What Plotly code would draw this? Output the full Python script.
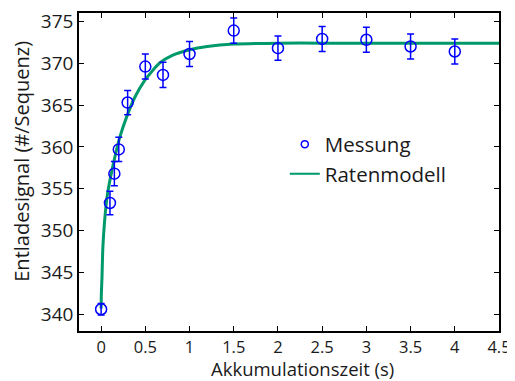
import plotly.graph_objects as go

# Measurement data
t_meas = [0, 0.1, 0.15, 0.2, 0.3, 0.5, 0.7, 1.0, 1.5, 2.0, 2.5, 3.0, 3.5, 4.0]
y_meas = [340.6, 353.3, 356.8, 359.7, 365.3, 369.6, 368.6, 371.1, 373.9, 371.8, 372.9, 372.8, 372.0, 371.4]
y_err = [0.7, 1.4, 1.45, 1.45, 1.45, 1.5, 1.5, 1.5, 1.5, 1.45, 1.5, 1.5, 1.5, 1.5]

# Rate model curve
t_model = [0, 0.003, 0.01, 0.02, 0.04, 0.067, 0.105, 0.154, 0.21, 0.286, 0.38, 0.49, 0.66, 0.8, 1.0, 1.2, 1.5, 2.0, 2.5, 3.0, 3.5, 4.0, 4.5]
y_model = [340.7, 342.5, 344.4, 348.0, 351.2, 354.0, 356.3, 358.7, 361.1, 363.5, 365.9, 367.9, 370.0, 370.9, 371.6, 372.0, 372.3, 372.4, 372.4, 372.4, 372.4, 372.4, 372.4]

x_ticks = [0, 0.5, 1, 1.5, 2, 2.5, 3, 3.5, 4, 4.5]
x_ticklabels = ["0", "0.5", "1", "1.5", "2", "2.5", "3", "3.5", "4", "4.5"]
y_ticks = [340, 345, 350, 355, 360, 365, 370, 375]

x_title = "Akkumulationszeit (s)"
y_title = "Entladesignal (#/Sequenz)"

BLUE = "#0000ff"
GREEN = "#00996b"
TEXT = "#1a1a1a"
FONT = "Open Sans"

fig = go.Figure()
fig.add_trace(go.Scatter(
    x=t_model, y=y_model, mode="lines", name="Ratenmodell", showlegend=False,
    line=dict(color=GREEN, width=3, shape="spline", smoothing=0.6),
))
fig.add_trace(go.Scatter(
    x=t_meas, y=y_meas, mode="markers", name="Messung", showlegend=False,
    marker=dict(symbol="circle-open", size=11, color=BLUE, line=dict(width=1.5, color=BLUE)),
    error_y=dict(type="data", array=y_err, color=BLUE, thickness=1.5, width=3.5),
))
# legend entries
fig.add_trace(go.Scatter(
    x=[None], y=[None], mode="markers", name="Messung",
    marker=dict(symbol="circle-open", size=7, color=BLUE, line=dict(width=1.5, color=BLUE)),
))
fig.add_trace(go.Scatter(
    x=[None], y=[None], mode="lines", name="Ratenmodell",
    line=dict(color=GREEN, width=2),
))

# page body has an 8px default margin, so the figure is sized to fit the window
fig.update_layout(
    width=507, height=373,
    margin=dict(l=71, r=16, t=5, b=50),
    paper_bgcolor="white", plot_bgcolor="white",
    font=dict(family=FONT, size=18, color=TEXT),
    showlegend=True,
    legend=dict(x=0.49, y=0.65, xanchor="left", yanchor="top", bgcolor="rgba(0,0,0,0)",
                font=dict(size=20.5), itemwidth=30, tracegroupgap=0),
    xaxis=dict(range=[-0.25, 4.5], tickvals=x_ticks, ticktext=x_ticklabels,
               ticks="inside", ticklen=5, tickwidth=1, tickcolor="black",
               showline=True, linecolor="black", linewidth=1.5, mirror="ticks",
               showgrid=False, zeroline=False, automargin=False,
               tickfont=dict(size=16.5)),
    yaxis=dict(range=[338, 376], tickvals=y_ticks,
               ticks="inside", ticklen=5, tickwidth=1, tickcolor="black",
               showline=True, linecolor="black", linewidth=1.5, mirror="ticks",
               showgrid=False, zeroline=False, automargin=False,
               tickfont=dict(size=19)),
    annotations=[
        dict(text=x_title, xref="paper", yref="paper", x=0.531, y=-0.118,
             xanchor="center", yanchor="middle", showarrow=False, font=dict(size=18.5)),
        dict(text=y_title, xref="paper", yref="paper", x=-0.136, y=0.535, textangle=-90,
             xanchor="center", yanchor="middle", showarrow=False, font=dict(size=20)),
    ],
)
fig.write_html("out.html")
